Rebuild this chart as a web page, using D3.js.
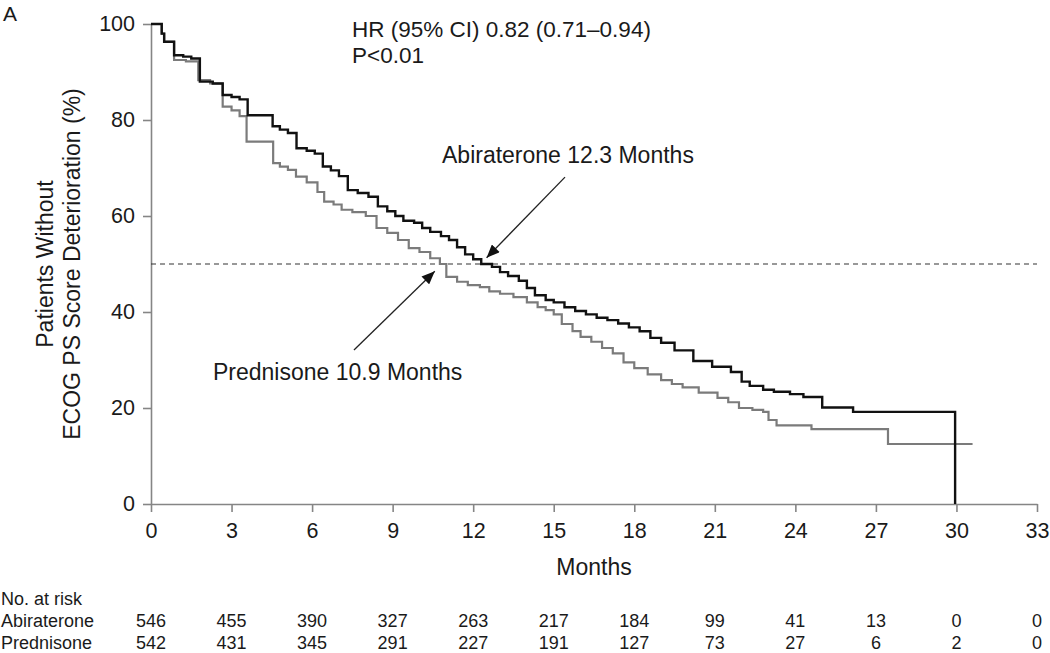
<!DOCTYPE html>
<html>
<head>
<meta charset="utf-8">
<script src="https://cdn.jsdelivr.net/npm/d3@7"></script>
<style>
  body { margin: 0; background: #fff; }
  svg text { font-family: "Liberation Sans", Arial, Helvetica, sans-serif; fill: #1a1a1a; }
</style>
</head>
<body>
<div id="chart"></div>
<script>
// Kaplan-Meier steps: [month, % without deterioration]
const abiraterone = [
  [0,100],[0.4,98],[0.49,96.3],[0.86,93.5],[1.2,93.2],[1.5,92.8],[1.82,88],[2.3,87.6],
  [2.67,85.2],[3.0,84.8],[3.3,84.3],[3.6,81],[4.53,78.7],[4.8,78],[5.1,77.3],[5.42,74.1],
  [5.8,73.6],[6.1,73],[6.4,70.3],[6.7,69.5],[7.0,68.3],[7.33,65.4],[7.7,64.8],[8.1,64],
  [8.45,62],[8.8,61],[9.1,60],[9.4,59],[9.8,58.6],[10.1,57.5],[10.4,56.7],[10.8,55.8],
  [11.1,55],[11.4,53.5],[11.7,52],[12.0,51],[12.3,50],[12.7,49.4],[13.0,48.3],[13.3,47.5],
  [13.7,46.5],[14.0,45],[14.3,43.5],[14.7,42.5],[15.0,42],[15.4,41],[15.8,40.2],[16.2,39.5],
  [16.6,38.8],[17.0,38.3],[17.4,37.6],[17.8,36.8],[18.2,36],[18.6,34.6],[19.0,33.6],
  [19.5,32],[20.2,29.8],[20.9,28.6],[21.6,27.5],[22.0,25.5],[22.3,24.6],[22.8,23.8],
  [23.2,23.4],[23.8,22.9],[24.3,22.3],[25.0,20.1],[26.15,19.2],[29.95,0]
];
const prednisone = [
  [0,100],[0.4,98],[0.49,96.3],[0.86,92.5],[1.3,92.2],[1.76,88.3],[2.2,87.6],[2.67,82.8],
  [3.0,82],[3.3,80.8],[3.56,75.5],[4.55,71],[4.8,70.3],[5.1,69.6],[5.4,68.2],[5.8,67],
  [6.2,65],[6.45,63],[6.8,62.4],[7.1,61.3],[7.5,60.8],[8.0,60],[8.4,57.5],[8.8,56.5],
  [9.2,55],[9.6,53.3],[10.0,52.5],[10.4,51.2],[10.76,50],[11.0,47.3],[11.4,46.3],
  [11.8,45.6],[12.25,45.2],[12.6,44.3],[13.0,43.8],[13.5,43.1],[14.0,42],[14.4,41],
  [14.7,40.4],[15.0,39.5],[15.3,37.5],[15.7,36],[16.0,34.8],[16.4,33.8],[16.8,32.5],
  [17.2,31.4],[17.6,29.5],[18.0,28.3],[18.5,27],[19.0,25.8],[19.4,25],[19.8,24.3],
  [20.4,23.2],[21.1,22.1],[21.5,21.2],[21.9,20],[22.4,19.6],[22.8,19.2],[23.0,17.5],
  [23.3,16.4],[24.6,15.6],[27.45,12.5],[30.6,12.5]
];

const xTicks = [0, 3, 6, 9, 12, 15, 18, 21, 24, 27, 30, 33];
const yTicks = [0, 20, 40, 60, 80, 100];
const riskGroups = ["Abiraterone", "Prednisone"];
const riskAbiraterone = [546, 455, 390, 327, 263, 217, 184, 99, 41, 13, 0, 0];
const riskPrednisone = [542, 431, 345, 291, 227, 191, 127, 73, 27, 6, 2, 0];

// arrows in data units: [fromMonth, fromPct, toMonth, toPct]
const arrowAbi = [15.42, 68.1, 12.5, 51.3];
const arrowPred = [7.56, 32.1, 10.57, 48.5];

const width = 1050, height = 653;
const margin = { top: 24, right: 13, bottom: 149, left: 151 };

const svg = d3.select("#chart").append("svg")
  .attr("width", width)
  .attr("height", height);

const x = d3.scaleLinear().domain([0, 33]).range([margin.left, width - margin.right]);
const y = d3.scaleLinear().domain([0, 100]).range([height - margin.bottom, margin.top]);

const axisColor = "#858585";

// x axis
const gx = svg.append("g")
  .attr("transform", `translate(0,${y(0)})`)
  .call(d3.axisBottom(x).tickValues(xTicks).tickSize(8).tickSizeOuter(0));
gx.select(".domain").attr("stroke", axisColor).attr("stroke-width", 1.6);
gx.selectAll(".tick line").attr("stroke", axisColor).attr("stroke-width", 1.6);
gx.selectAll(".tick text").attr("y", 19).attr("font-size", 21.5);

// y axis
const gy = svg.append("g")
  .attr("transform", `translate(${x(0)},0)`)
  .call(d3.axisLeft(y).tickValues(yTicks).tickSize(8).tickPadding(8).tickSizeOuter(0));
gy.select(".domain").attr("stroke", axisColor).attr("stroke-width", 1.6);
gy.selectAll(".tick line").attr("stroke", axisColor).attr("stroke-width", 1.6);
gy.selectAll(".tick text").attr("font-size", 21.5);
svg.selectAll(".tick text").attr("font-family", null).style("fill", "#1a1a1a");

// median reference line
svg.append("line")
  .attr("x1", x(0)).attr("x2", x(33))
  .attr("y1", y(50)).attr("y2", y(50))
  .attr("stroke", "#333")
  .attr("stroke-width", 1.1)
  .attr("stroke-dasharray", "5,4");

const line = d3.line()
  .x(d => x(d[0]))
  .y(d => y(d[1]))
  .curve(d3.curveStepAfter);

svg.append("path")
  .datum(prednisone)
  .attr("fill", "none")
  .attr("stroke", "#7b7b7b")
  .attr("stroke-width", 2.2)
  .attr("d", line);

svg.append("path")
  .datum(abiraterone)
  .attr("fill", "none")
  .attr("stroke", "#111")
  .attr("stroke-width", 2.4)
  .attr("d", line);

// arrowheads
svg.append("defs").append("marker")
  .attr("id", "head")
  .attr("viewBox", "0 0 12 10")
  .attr("refX", 12).attr("refY", 5)
  .attr("markerWidth", 14).attr("markerHeight", 11)
  .attr("markerUnits", "userSpaceOnUse")
  .attr("orient", "auto")
  .append("path")
  .attr("d", "M0,0L12,5L0,10Z")
  .attr("fill", "#111");

[arrowAbi, arrowPred].forEach(a => {
  svg.append("line")
    .attr("x1", x(a[0])).attr("y1", y(a[1]))
    .attr("x2", x(a[2])).attr("y2", y(a[3]))
    .attr("stroke", "#222")
    .attr("stroke-width", 1.3)
    .attr("marker-end", "url(#head)");
});

// annotations
svg.append("text").attr("x", 442).attr("y", 163).attr("font-size", 23)
  .text("Abiraterone 12.3 Months");
svg.append("text").attr("x", 213).attr("y", 380).attr("font-size", 23)
  .text("Prednisone 10.9 Months");
svg.append("text").attr("x", 352).attr("y", 37).attr("font-size", 22.5)
  .text("HR (95% CI) 0.82 (0.71\u20130.94)");
svg.append("text").attr("x", 352).attr("y", 63).attr("font-size", 22.5)
  .text("P<0.01");
svg.append("text").attr("x", 3).attr("y", 21).attr("font-size", 21)
  .text("A");

// axis titles
const yl = svg.append("text")
  .attr("transform", `translate(53,${y(50)}) rotate(-90)`)
  .attr("text-anchor", "middle")
  .attr("font-size", 23);
yl.append("tspan").attr("x", 0).attr("y", 0).text("Patients Without");
yl.append("tspan").attr("x", 0).attr("y", 27).text("ECOG PS Score Deterioration (%)");

svg.append("text")
  .attr("x", (x(0) + x(33)) / 2).attr("y", 575)
  .attr("text-anchor", "middle")
  .attr("font-size", 23)
  .text("Months");

// number at risk table
svg.append("text").attr("x", 1).attr("y", 605).attr("font-size", 18).text("No. at risk");
const riskRows = [riskAbiraterone, riskPrednisone];
riskRows.forEach((row, i) => {
  const ry = 627 + i * 22;
  svg.append("text").attr("x", 1).attr("y", ry).attr("font-size", 18).text(riskGroups[i]);
  svg.append("g").selectAll("text")
    .data(row)
    .join("text")
    .attr("x", (d, j) => x(xTicks[j]))
    .attr("y", ry)
    .attr("text-anchor", "middle")
    .attr("font-size", 18)
    .text(d => d);
});
</script>
</body>
</html>
